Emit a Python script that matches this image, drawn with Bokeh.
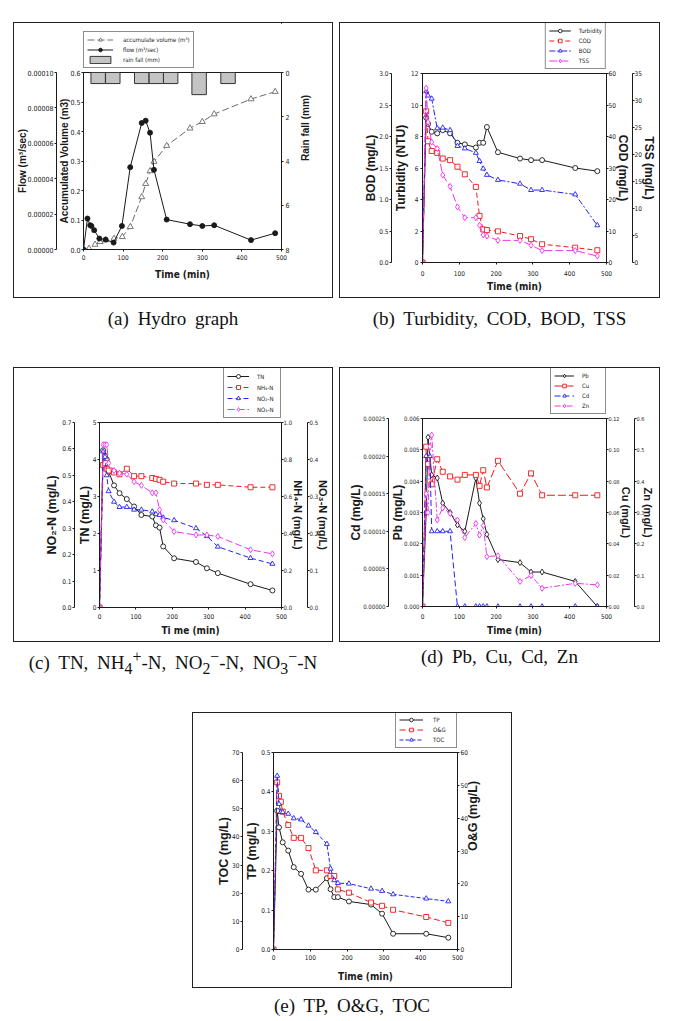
import math
from bokeh.plotting import figure
from bokeh.models import (Range1d, LinearAxis, Legend, LegendItem, Div, Spacer,
                          FixedTicker, NumeralTickFormatter)
from bokeh.layouts import column, row
from bokeh.embed import file_html
from bokeh.resources import INLINE

# ---------------- data ----------------
# (a) Hydro graph
flow_time = [0, 10, 17, 20, 27, 40, 56, 76, 97, 118, 147, 157, 168, 178, 210, 269, 300, 330, 423, 484]
flow = [0, 1.75e-5, 1.37e-5, 1.33e-5, 1.09e-5, 6.2e-6, 5.6e-6, 3.9e-6, 1.33e-5, 4.65e-5,
        7.15e-5, 7.28e-5, 6.6e-5, 4.5e-5, 1.69e-5, 1.43e-5, 1.33e-5, 1.37e-5, 5.3e-6, 9.2e-6]
vol_time = [0, 14, 29, 42, 56, 77, 98, 118, 147, 157, 168, 178, 210, 269, 300, 330, 423, 484]
acc_volume = [0, 0.003, 0.017, 0.026, 0.032, 0.037, 0.043, 0.077, 0.178, 0.223, 0.266, 0.298,
              0.352, 0.411, 0.433, 0.459, 0.51, 0.535]
rain_time = [37, 74, 147, 184, 220, 292, 365]
rain_fall = [0.5, 0.5, 0.5, 0.5, 0.5, 1.0, 0.5]

# (b) Turbidity, COD, BOD, TSS
time_b = [0, 10, 15, 25, 40, 55, 75, 95, 115, 145, 155, 165, 175, 205, 265, 295, 325, 415, 475]
turbidity = [0, 9.2, 8.8, 8.3, 8.2, 8.4, 8.2, 7.6, 7.5, 7.3, 7.6, 7.6, 8.6, 7.0, 6.6, 6.5, 6.5, 6.0, 5.8]
cod = [0, 48, 38.5, 35.4, 34.8, 33, 32.5, 30.4, 28, 24, 14.8, 10.5, 10.3, 9.9, 8.4, 7.4, 5.8, 4.7, 3.9]
bod = [0, 2.72, 2.65, 2.60, 2.13, 2.14, 2.10, 1.85, 1.81, 1.74, 1.61, 1.49, 1.39, 1.31, 1.25, 1.15, 1.15, 1.08, 0.59]
tss = [0, 32.3, 26, 22.3, 21.1, 16.2, 14.1, 10.3, 8.3, 8.3, 6.9, 5.1, 4.9, 4.1, 4.1, 3.2, 2.2, 2.2, 1.2]

# (c) TN, NH4-N, NO2-N, NO3-N
time_c = [0, 10, 15, 20, 25, 40, 55, 75, 95, 115, 145, 155, 165, 175, 205, 265, 295, 325, 415, 475]
tn = [0, 4.25, 4.1, 4.0, 3.67, 3.3, 3.09, 2.93, 2.73, 2.5, 2.46, 2.22, 2.16, 1.65, 1.33, 1.23, 1.06, 0.93, 0.63, 0.46]
nh4 = [0, 0.77, 0.78, 0.75, 0.74, 0.73, 0.72, 0.75, 0.71, 0.71, 0.70, 0.695, 0.69, 0.68, 0.67, 0.67, 0.663, 0.663, 0.65, 0.65]
no2 = [0, 0.59, 0.57, 0.50, 0.44, 0.40, 0.38, 0.38, 0.37, 0.37, 0.363, 0.353, 0.35, 0.34, 0.33, 0.30, 0.27, 0.23, 0.187, 0.165]
no3 = [0, 0.44, 0.44, 0.44, 0.39, 0.37, 0.363, 0.36, 0.34, 0.33, 0.31, 0.31, 0.264, 0.237, 0.205, 0.196, 0.196, 0.192, 0.156, 0.145]

# (d) Pb, Cu, Cd, Zn
time_pb = [0, 10, 15, 25, 40, 55, 75, 95, 115, 145, 155, 165, 175, 205, 265, 295, 325, 415, 475]
pb = [0, 0.0030, 0.0054, 0.0042, 0.0041, 0.0033, 0.0030, 0.0026, 0.0024, 0.0041, 0.0033, 0.0028, 0.0023,
      0.0015, 0.0014, 0.0011, 0.0011, 0.0008, 0.0]
time_cu = [0, 10, 15, 25, 40, 55, 75, 95, 115, 145, 155, 165, 175, 205, 265, 295, 325, 415, 475]
cu = [0, 0.102, 0.091, 0.078, 0.094, 0.086, 0.083, 0.081, 0.084, 0.084, 0.077, 0.087, 0.076, 0.093,
      0.072, 0.085, 0.071, 0.071, 0.071]
time_cd = [0, 10, 20, 25, 40, 55, 75, 95, 115, 145, 155, 165, 175, 205, 265, 295, 325, 415, 475]
cd = [0, 0.0002, 0.0002, 0.0001, 0.0001, 0.0001, 0.0001, 0, 0, 0, 0, 0, 0, 0, 0, 0, 0, 0, 0]
time_zn = [0, 10, 15, 20, 25, 40, 55, 75, 95, 115, 145, 155, 165, 175, 205, 265, 295, 325, 415, 475]
zn = [0, 0.36, 0.30, 0.51, 0.547, 0.276, 0.315, 0.297, 0.276, 0.22, 0.265, 0.228, 0.258, 0.159, 0.162,
      0.08, 0.099, 0.058, 0.074, 0.069]

# (e) TP, O&G, TOC
time_tp = [0, 10, 15, 25, 40, 55, 75, 95, 115, 145, 155, 165, 175, 205, 265, 295, 325, 415, 475]
tp = [0, 0.352, 0.31, 0.272, 0.251, 0.209, 0.192, 0.152, 0.152, 0.181, 0.153, 0.133, 0.133, 0.122,
      0.114, 0.091, 0.040, 0.040, 0.030]
time_e = [0, 10, 15, 20, 25, 40, 55, 75, 95, 115, 145, 155, 165, 175, 205, 265, 295, 325, 415, 475]
og = [0, 50.9, 46.8, 45, 42, 37.9, 34, 34, 30.9, 24.1, 24.1, 22.4, 22.4, 18.3, 17.3, 14.3, 13.3, 12.1, 9.9, 8.1]
toc = [0, 61.7, 51.7, 48.8, 48.8, 48.2, 46.6, 46.2, 44, 41.7, 37.5, 28.7, 24.6, 23.6, 23.4, 21.6, 20.8, 19.6, 18.1, 17.1]

x_ticks = [0, 100, 200, 300, 400, 500]

captions = {
    "a": "(a) Hydro graph",
    "b": "(b) Turbidity, COD, BOD, TSS",
    "c": "(c) TN, NH<sub>4</sub><sup>+</sup>-N, NO<sub>2</sub><sup>&minus;</sup>-N, NO<sub>3</sub><sup>&minus;</sup>-N",
    "d": "(d) Pb, Cu, Cd, Zn",
    "e": "(e) TP, O&amp;G, TOC",
}

# ---------------- styling ----------------
FT = "Liberation Sans"
FN = "'Liberation Sans Narrow', 'DejaVu Sans Condensed', 'Liberation Sans', sans-serif"
INK = "#1a1a1a"
RED = "#f01818"
BLUE = "#2222ee"
MAG = "#ee33ee"
GRAY = "#6a6a6a"
UP = math.pi / 2

# panel boxes (outer, incl. 1px border) and plot-frame edges, page pixels
GEOM = {
    "a": dict(x0=13, y0=22, W=320, H=276, FL=83, FR=281, FT=72, FB=249),
    "b": dict(x0=339, y0=22, W=321, H=276, FL=422, FR=610, FT=73, FB=262),
    "c": dict(x0=13, y0=367, W=320, H=275, FL=99, FR=283, FT=422, FB=607),
    "d": dict(x0=339, y0=367, W=321, H=275, FL=422, FR=610, FT=418, FB=606),
    "e": dict(x0=192, y0=712, W=320, H=276, FL=273, FR=458, FT=752, FB=949),
}


def panel(key, ytop, leg_left=None, leg_right=None):
    g = GEOM[key]
    cl, cr = g["x0"] + 1, g["x0"] + g["W"] - 1
    ct, cb = g["y0"] + 1, g["y0"] + g["H"] - 1
    hl = g["FT"] - 4 - ct
    hm = (g["H"] - 2) - hl
    main = figure(width=g["W"] - 2, height=hm, x_range=Range1d(0, 500), y_range=Range1d(0, ytop),
                  min_border_left=g["FL"] - cl, min_border_right=cr - g["FR"],
                  min_border_top=4, min_border_bottom=cb - g["FB"],
                  output_backend="svg", toolbar_location=None, tools="")
    main.grid.visible = False
    main.outline_line_color = INK
    main.outline_line_width = 1
    main.background_fill_color = "white"
    main.border_fill_color = "white"
    if leg_right is not None:
        mbl, mbr = 0, cr - leg_right
    else:
        mbl, mbr = leg_left - cl, 0
    # key strip above the plot frame: its ranges lie far from the data, so only the legend shows
    leg = figure(width=g["W"] - 2, height=hl, x_range=Range1d(-3000, -2000), y_range=Range1d(-3000, -2000),
                 min_border_left=mbl, min_border_right=mbr, min_border_top=0, min_border_bottom=0,
                 x_axis_location=None, y_axis_location=None,
                 output_backend="svg", toolbar_location=None, tools="")
    leg.grid.visible = False
    leg.outline_line_color = None
    leg.background_fill_color = "white"
    leg.border_fill_color = "white"
    box = column(leg, main, styles={"border": "1px solid #222"})
    return main, leg, box


def sty_y(ax, label, ticks, fmt, fs, ts=1, ls=1, tick_fs="6.5px", orient=None):
    ax.axis_label = label
    ax.axis_label_text_font = FT
    ax.axis_label_text_font_style = "bold"
    ax.axis_label_text_font_size = fs
    ax.axis_label_text_color = INK
    ax.major_label_text_font = FN
    ax.major_label_text_font_size = tick_fs
    ax.major_label_text_color = "#222"
    ax.major_tick_out = 2
    ax.major_tick_in = 0
    ax.minor_tick_out = 0
    ax.minor_tick_in = 0
    ax.major_label_standoff = ts
    ax.axis_label_standoff = ls
    ax.axis_line_color = INK
    ax.major_tick_line_color = INK
    ax.ticker = FixedTicker(ticks=ticks, minor_ticks=[])
    ax.formatter = NumeralTickFormatter(format=fmt)
    if orient is not None:
        ax.axis_label_orientation = orient


def sty_x(ax, label, fs, ts, ls):
    ax.axis_label = label
    ax.axis_label_text_font = FN
    ax.axis_label_text_font_style = "bold"
    ax.axis_label_text_font_size = fs
    ax.axis_label_text_color = INK
    ax.major_label_text_font = FN
    ax.major_label_text_font_size = "6.5px"
    ax.major_label_text_color = "#222"
    ax.major_tick_out = 2
    ax.major_tick_in = 0
    ax.minor_tick_out = 0
    ax.minor_tick_in = 0
    ax.major_label_standoff = ts
    ax.axis_label_standoff = ls
    ax.axis_line_color = INK
    ax.major_tick_line_color = INK
    ax.ticker = FixedTicker(ticks=x_ticks, minor_ticks=[])
    ax.formatter = NumeralTickFormatter(format="0")


def extra(p, side, name, rng, label, ticks, fmt, fs, ts=1, ls=1, tick_fs="6.5px", orient=None):
    p.extra_y_ranges = {**p.extra_y_ranges, name: rng}
    ax = LinearAxis(y_range_name=name)
    sty_y(ax, label, ticks, fmt, fs, ts, ls, tick_fs, orient)
    p.add_layout(ax, side)
    return ax


def series(p, x, y, color, dash, marker, rng=None, fill="white", size=5):
    kw = {} if rng is None else {"y_range_name": rng}
    p.line(x, y, line_color=color, line_dash=dash, line_width=1, **kw)
    p.scatter(x, y, marker=marker, size=size, line_color=color, fill_color=fill, line_width=0.9, **kw)


def key_glyph(leg, x, y, color, dash, marker, fill="white", size=5):
    l = leg.line(x, y, line_color=color, line_dash=dash, line_width=1)
    s = leg.scatter(x, y, marker=marker, size=size, line_color=color, fill_color=fill, line_width=0.9)
    return [l, s]


def legend(leg, items, loc, fs="6px", gw=22, standoff=8, row_h=9):
    lg = Legend(items=[LegendItem(label=t, renderers=r) for t, r in items], location=loc)
    lg.label_text_font = FN
    lg.label_text_font_size = fs
    lg.label_text_color = INK
    lg.glyph_width = gw
    lg.glyph_height = row_h
    lg.label_height = row_h
    lg.label_standoff = standoff
    lg.spacing = 1
    lg.padding = 3
    lg.margin = 0
    lg.border_line_color = INK
    lg.border_line_width = 1
    lg.background_fill_color = "white"
    lg.background_fill_alpha = 1
    leg.add_layout(lg)


# ---------------- (a) ----------------
fa, la, box_a = panel("a", 0.6, leg_left=83)
sty_y(fa.yaxis[0], "Accumulated Volume (m3)", [0, .1, .2, .3, .4, .5, .6], "0.0", "10px", ts=1, ls=-3, tick_fs="7px")
extra(fa, "left", "flow", Range1d(0, 0.0001), "Flow (m³/sec)",
      [0, 2e-5, 4e-5, 6e-5, 8e-5, 1e-4], "0.00000", "10px", ts=1, ls=-4, tick_fs="7px")
extra(fa, "right", "rain", Range1d(8, 0), "Rain fall (mm)", [0, 2, 4, 6, 8], "0", "10px",
      ts=2, ls=13, tick_fs="7px", orient=UP)
sty_x(fa.xaxis[0], "Time (min)", "10px", 3, 6)
fa.vbar(x=rain_time, width=36.5, top=0, bottom=rain_fall, y_range_name="rain",
        fill_color="#c4c4c4", line_color="#333333", line_width=1)
series(fa, vol_time, acc_volume, GRAY, "7 3", "triangle", size=6)
series(fa, flow_time, flow, INK, "solid", "circle", rng="flow", fill=INK, size=5)
k_rain = la.vbar(x=rain_time, width=36.5, top=0, bottom=rain_fall,
                 fill_color="#c4c4c4", line_color="#333333", line_width=1)
legend(la, [("accumulate volume (m³)", key_glyph(la, vol_time, acc_volume, GRAY, "7 3", "triangle", size=6)),
            ("flow (m³/sec)", key_glyph(la, flow_time, flow, INK, "solid", "circle", fill=INK)),
            ("rain fall (mm)", [k_rain])],
       "bottom_left", fs="6px", gw=26, standoff=10, row_h=9)

# ---------------- (b) ----------------
fb, lb, box_b = panel("b", 12, leg_right=606)
sty_y(fb.yaxis[0], "Turbidity (NTU)", [0, 2, 4, 6, 8, 10, 12], "0", "12px", ts=2, ls=0)
extra(fb, "left", "bod", Range1d(0, 3), "BOD (mg/L)", [0, .5, 1, 1.5, 2, 2.5, 3], "0.0", "12px", ts=1, ls=-2)
extra(fb, "right", "cod", Range1d(0, 60), "COD (mg/L)", [0, 10, 20, 30, 40, 50, 60], "0", "12px", ts=0, ls=-3)
extra(fb, "right", "tss", Range1d(0, 35), "TSS (mg/L)", [0, 5, 10, 15, 20, 25, 30, 35], "0", "12px", ts=0, ls=-3)
sty_x(fb.xaxis[0], "Time (min)", "10px", 6, 2)
series(fb, time_b, turbidity, INK, "solid", "circle")
series(fb, time_b, cod, RED, "5 3", "square", rng="cod")
series(fb, time_b, bod, BLUE, "6 2 2 2", "triangle", rng="bod")
series(fb, time_b, tss, MAG, "8 3", "diamond", rng="tss", size=6)
legend(lb, [("Turbidity", key_glyph(lb, time_b, turbidity, INK, "solid", "circle")),
            ("COD", key_glyph(lb, time_b, cod, RED, "5 3", "square")),
            ("BOD", key_glyph(lb, time_b, bod, BLUE, "6 2 2 2", "triangle")),
            ("TSS", key_glyph(lb, time_b, tss, MAG, "8 3", "diamond", size=6))],
       "bottom_right", fs="6px", gw=22, standoff=8, row_h=9)

# ---------------- (c) ----------------
fc, lc, box_c = panel("c", 5, leg_right=283)
sty_y(fc.yaxis[0], "TN (mg/L)", [0, 1, 2, 3, 4, 5], "0", "12.5px", ts=1, ls=-2)
extra(fc, "left", "no2", Range1d(0, 0.7), "NO₂-N (mg/L)", [0, .1, .2, .3, .4, .5, .6, .7], "0.0", "12.5px", ts=1, ls=0)
extra(fc, "right", "nh4", Range1d(0, 1.0), "NH₄-N (mg/L)", [0, .2, .4, .6, .8, 1.0], "0.0", "11px",
      ts=0, ls=-3, tick_fs="6px")
extra(fc, "right", "no3", Range1d(0, 0.5), "NO₃-N (mg/L)", [0, .1, .2, .3, .4, .5], "0.0", "11px",
      ts=0, ls=-4, tick_fs="6px")
sty_x(fc.xaxis[0], "Ti me (min)", "10px", 4, 3)
series(fc, time_c, tn, INK, "solid", "circle")
series(fc, time_c, nh4, RED, "5 3", "square", rng="nh4")
series(fc, time_c, no2, BLUE, "5 3", "triangle", rng="no2")
series(fc, time_c, no3, MAG, "7 3", "diamond", rng="no3", size=6)
legend(lc, [("TN", key_glyph(lc, time_c, tn, INK, "solid", "circle")),
            ("NH₄-N", key_glyph(lc, time_c, nh4, RED, "5 3", "square")),
            ("NO₂-N", key_glyph(lc, time_c, no2, BLUE, "5 3", "triangle")),
            ("NO₃-N", key_glyph(lc, time_c, no3, MAG, "7 3", "diamond", size=6))],
       "bottom_right", fs="6px", gw=22, standoff=8, row_h=10)

# ---------------- (d) ----------------
fd, ld, box_d = panel("d", 0.006, leg_right=606)
sty_y(fd.yaxis[0], "Pb (mg/L)", [0, .001, .002, .003, .004, .005, .006], "0.000", "12px", ts=1, ls=-4, tick_fs="6px")
extra(fd, "left", "cd", Range1d(0, 0.00025), "Cd (mg/L)",
      [0, 5e-5, 1e-4, 1.5e-4, 2e-4, 2.5e-4], "0.00000", "12px", ts=1, ls=-3, tick_fs="6px")
extra(fd, "right", "cu", Range1d(0, 0.12), "Cu (mg/L)", [0, .02, .04, .06, .08, .10, .12], "0.00", "11px",
      ts=0, ls=-3, tick_fs="5.5px")
extra(fd, "right", "zn", Range1d(0, 0.6), "Zn (mg/L)", [0, .1, .2, .3, .4, .5, .6], "0.0", "11px",
      ts=0, ls=-5, tick_fs="5.5px")
sty_x(fd.xaxis[0], "Time (min)", "10px", 5, 3)
series(fd, time_pb, pb, INK, "solid", "diamond", size=6)
series(fd, time_cu, cu, RED, "8 3", "square", rng="cu")
series(fd, time_cd, cd, BLUE, "6 3", "triangle", rng="cd")
series(fd, time_zn, zn, MAG, "6 2 2 2", "diamond", rng="zn", size=6)
legend(ld, [("Pb", key_glyph(ld, time_pb, pb, INK, "solid", "diamond", size=6)),
            ("Cu", key_glyph(ld, time_cu, cu, RED, "8 3", "square")),
            ("Cd", key_glyph(ld, time_cd, cd, BLUE, "6 3", "triangle")),
            ("Zn", key_glyph(ld, time_zn, zn, MAG, "6 2 2 2", "diamond", size=6))],
       "bottom_right", fs="6px", gw=20, standoff=8, row_h=9)

# ---------------- (e) ----------------
fe, le, box_e = panel("e", 0.5, leg_right=457)
sty_y(fe.yaxis[0], "TP (mg/L)", [0, .1, .2, .3, .4, .5], "0.0", "12.5px", ts=1, ls=-1)
extra(fe, "left", "toc", Range1d(0, 70), "TOC (mg/L)", [0, 10, 20, 30, 40, 50, 60, 70], "0", "12.5px", ts=1, ls=-2)
extra(fe, "right", "og", Range1d(0, 60), "O&G (mg/L)", [0, 10, 20, 30, 40, 50, 60], "0", "12.5px",
      ts=1, ls=2, orient=UP)
sty_x(fe.xaxis[0], "Time (min)", "10px", 3, 8)
series(fe, time_tp, tp, INK, "solid", "circle")
series(fe, time_e, og, RED, "6 3", "square", rng="og")
series(fe, time_e, toc, BLUE, "4 2", "triangle", rng="toc")
legend(le, [("TP", key_glyph(le, time_tp, tp, INK, "solid", "circle")),
            ("O&G", key_glyph(le, time_e, og, RED, "6 3", "square")),
            ("TOC", key_glyph(le, time_e, toc, BLUE, "4 2", "triangle"))],
       "bottom_right", fs="6px", gw=24, standoff=10, row_h=9)


# ---------------- captions & layout ----------------
def cap(key, w, h, pad):
    html = ('<div style="width:%dpx;font-family:\'Liberation Serif\',\'DejaVu Serif\',serif;'
            'font-size:19px;color:#111;text-align:center;word-spacing:4px;line-height:22px;'
            'padding-top:%dpx;">%s</div>' % (w, pad, captions[key]))
    return Div(text=html, width=w, height=h, margin=0)


layout = column(
    Spacer(height=22),
    row(Spacer(width=13), box_a, Spacer(width=6), box_b),
    row(Spacer(width=13), cap("a", 320, 69, 10), Spacer(width=6), cap("b", 321, 69, 10)),
    row(Spacer(width=13), box_c, Spacer(width=6), box_d),
    row(Spacer(width=13), cap("c", 320, 70, 4), Spacer(width=6), cap("d", 321, 70, 4)),
    row(Spacer(width=192), box_e),
    row(Spacer(width=192), cap("e", 320, 33, 7)),
)

open("out.html", "w").write(file_html(layout, INLINE))
